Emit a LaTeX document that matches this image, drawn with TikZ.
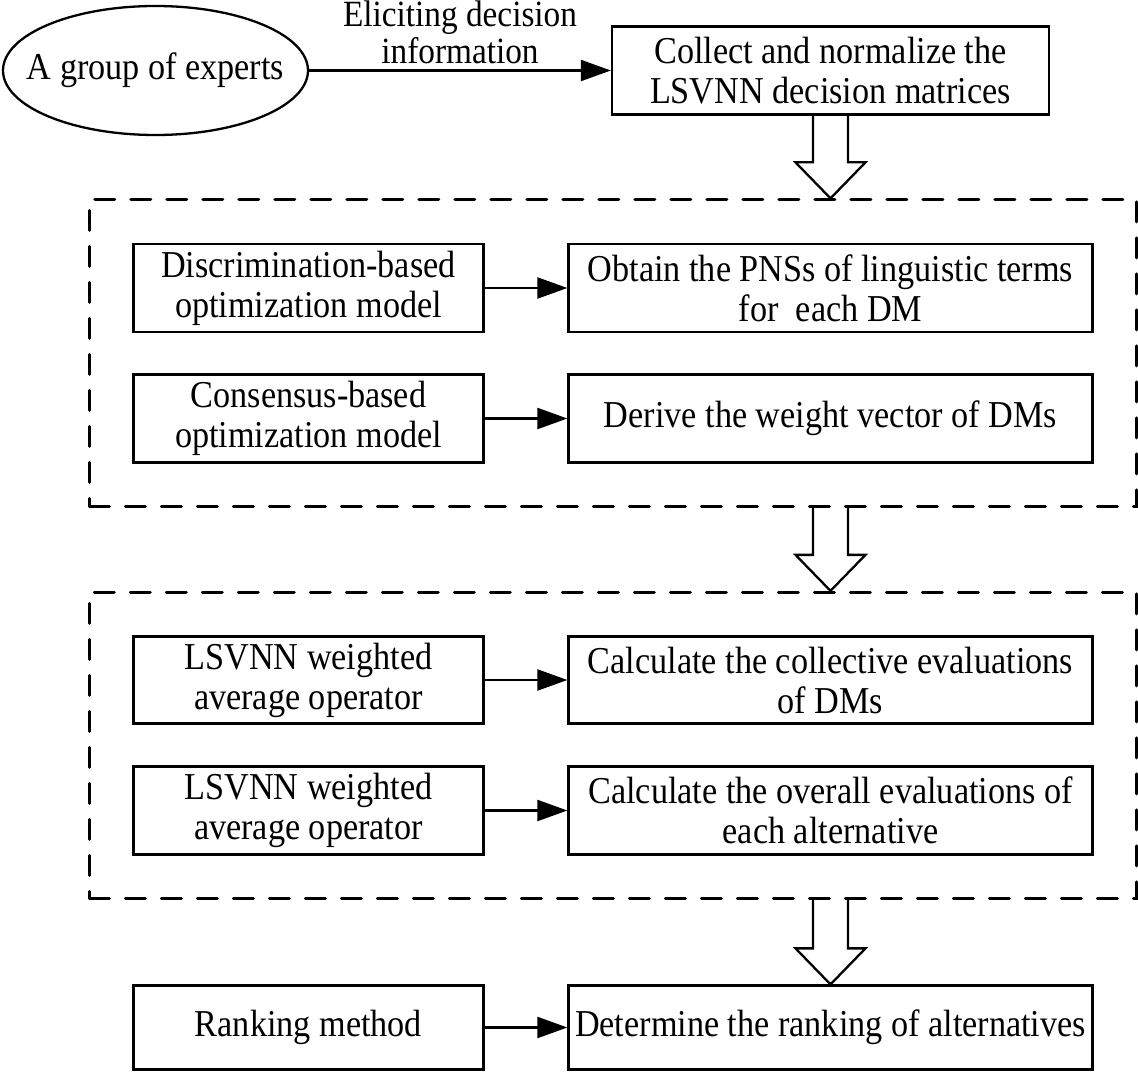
\documentclass[tikz,border=0pt]{standalone}
\usepackage{fontspec}
\setmainfont{Liberation Serif}[FakeStretch=0.9]
\usetikzlibrary{arrows.meta,shapes.geometric,fit,calc}
\newcommand{\hollowarrow}[2]{%
  \draw[-,line join=miter] let \p1=#1, \p2=#2 in
    (\x1-17.5pt,\y1) -- (\x1-17.5pt,\y2+36pt) -- (\x1-35pt,\y2+36pt) -- (\x2,\y2)
    -- (\x1+35pt,\y2+36pt) -- (\x1+17.5pt,\y2+36pt) -- (\x1+17.5pt,\y1);}

\begin{document}
\begin{tikzpicture}[x=1pt,y=-1pt,->,>={Triangle[length=30pt,width=21pt]},line width=2.3pt,
  font=\fontsize{38}{40}\selectfont,
  main node/.style={rectangle,draw,align=center,minimum width=524pt,minimum height=88pt,inner sep=0pt},
  side node/.style={main node,minimum width=350pt},
  expert node/.style={ellipse,draw,minimum width=305pt,minimum height=129pt,inner xsep=-22pt,inner ysep=0pt},
  group node/.style={rectangle,draw,line width=3pt,line cap=round,dash pattern=on 20pt off 16pt,inner sep=43pt}]
  \useasboundingbox (0,0) rectangle (1138,1075);
  \node[expert node] (1) at (155.5,70.5) {A group of experts};
  \node[main node,minimum width=437pt] (2) [right of=1,node distance=675pt] {Collect and normalize the\\LSVNN decision matrices};
  \node[main node] (4) [below of=2,node distance=217.5pt] {Obtain the PNSs of linguistic terms\\for\ \ each DM};
  \node[side node] (3) [left of=4,node distance=522pt] {Discrimination-based\\optimization model};
  \node[side node] (5) [below of=3,node distance=130.5pt] {Consensus-based\\optimization model};
  \node[main node] (6) [right of=5,node distance=522pt] {Derive the weight vector of DMs};
  \node[side node,minimum height=87pt] (7) [below of=5,node distance=261.5pt] {LSVNN weighted\\average operator};
  \node[main node,minimum height=87pt] (8) [right of=7,node distance=522pt] {Calculate the collective evaluations\\of DMs};
  \node[side node] (9) [below of=7,node distance=130.5pt] {LSVNN weighted\\average operator};
  \node[main node] (10) [right of=9,node distance=522pt] {Calculate the overall evaluations of\\each alternative};
  \node[side node,minimum height=84pt] (11) [below of=9,node distance=217pt] {Ranking method};
  \node[main node,minimum height=84pt] (12) [right of=11,node distance=522pt] {Determine the ranking of alternatives};
  \node[group node,fit=(3)(4)(5)(6)] (13) {};
  \node[group node,fit=(7)(8)(9)(10)] (14) {};
  \path
    (1) edge node[above,align=center,inner sep=5pt,font=\fontsize{37}{37}\selectfont] {Eliciting decision\\information} (2)
    (3) edge (4)
    (5) edge (6)
    (7) edge (8)
    (9) edge (10)
    (11) edge (12);
  \hollowarrow{(2.south)}{(2 |- 13.north)}
  \hollowarrow{(13.south -| 4)}{(14.north -| 4)}
  \hollowarrow{(14.south -| 12)}{(12.north)}
\end{tikzpicture}
\end{document}
